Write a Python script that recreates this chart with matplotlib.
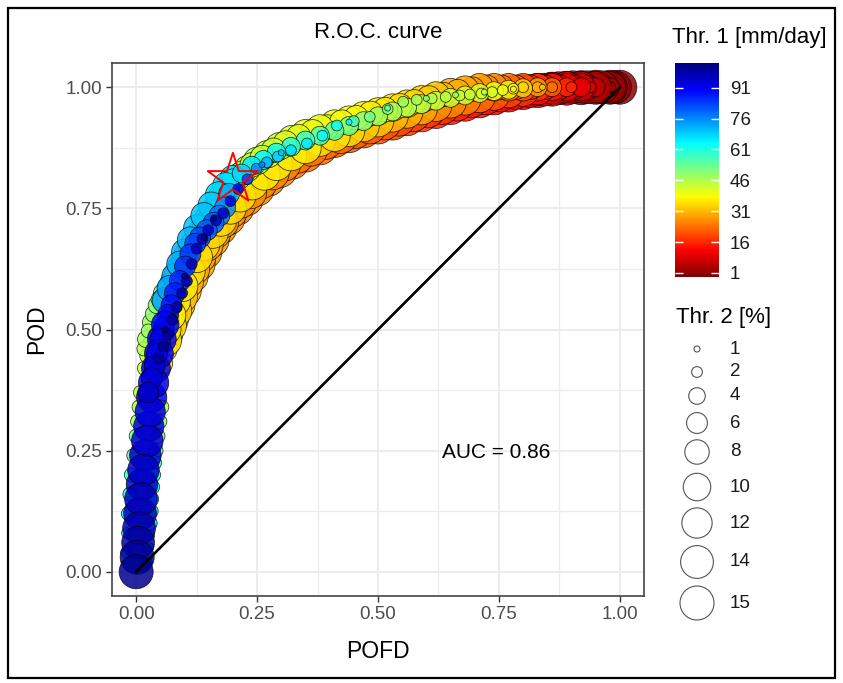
import numpy as np
import matplotlib
matplotlib.use("Agg")
import matplotlib.pyplot as plt
from matplotlib.colors import Normalize, LinearSegmentedColormap
from matplotlib.patches import Rectangle
import matplotlib.cm as cm

plt.rcParams['font.family'] = ['Liberation Sans', 'DejaVu Sans']

# ---- data: (POFD, POD, Thr.1, Thr.2) ----
# big dark blue circles stacked up the left column
col_pofd = [0.000, 0.002, 0.004, 0.006, 0.008, 0.010, 0.012, 0.015, 0.019, 0.023,
            0.026, 0.029, 0.032, 0.036, 0.041, 0.047, 0.053, 0.060]
col_pod = [0.000, 0.030, 0.060, 0.090, 0.120, 0.150, 0.180, 0.210, 0.240, 0.270,
           0.300, 0.330, 0.360, 0.390, 0.420, 0.450, 0.480, 0.510]
col_thr1 = [101, 100, 99, 98, 97, 97, 96, 96, 95, 95, 94, 94, 93, 93, 92, 92, 91, 91]
col_thr2 = [15, 15, 14, 14, 14, 14, 13, 13, 13, 13, 12, 12, 12, 12, 11, 11, 11, 10]

# small points peeking out on both sides of the column
fz_pofd = [-0.021, -0.019, -0.016, -0.013, -0.010, -0.005, 0.000, 0.003, 0.006, 0.009,
           0.017, 0.022, 0.027,
           0.022, 0.025, 0.027, 0.029, 0.031, 0.032, 0.034, 0.036, 0.038, 0.041, 0.045,
           0.049, 0.053]
fz_pod = [0.04, 0.08, 0.12, 0.16, 0.20, 0.24, 0.28, 0.31, 0.34, 0.37, 0.42, 0.445, 0.47,
          0.02, 0.05, 0.075, 0.10, 0.125, 0.15, 0.175, 0.20, 0.225, 0.25, 0.28, 0.31, 0.34]
fz_thr1 = [68, 66, 64, 62, 58, 55, 52, 48, 46, 45, 44, 44, 45,
           70, 68, 68, 66, 66, 64, 62, 60, 58, 55, 52, 50, 46]
fz_thr2 = [2, 2, 3, 3, 3, 3, 3, 3, 3, 3, 3, 3, 3,
           2, 2, 2, 3, 3, 3, 3, 3, 3, 3, 3, 3, 3]

# lower-right edge of the cloud (large Thr.2)
lo_pofd = [0.050, 0.058, 0.068, 0.078, 0.090, 0.102, 0.115, 0.128, 0.142, 0.157,
           0.173, 0.190, 0.208, 0.228, 0.250, 0.273, 0.297, 0.322, 0.350, 0.380,
           0.410, 0.440, 0.470, 0.500, 0.530, 0.560, 0.590, 0.620, 0.650, 0.680,
           0.710, 0.740, 0.770, 0.800, 0.830, 0.860, 0.890, 0.920, 0.950, 0.980, 1.000]
lo_pod = [0.430, 0.460, 0.490, 0.520, 0.550, 0.580, 0.610, 0.635, 0.660, 0.685,
          0.710, 0.730, 0.750, 0.770, 0.790, 0.810, 0.828, 0.845, 0.860, 0.875,
          0.890, 0.900, 0.910, 0.918, 0.926, 0.935, 0.943, 0.950, 0.958, 0.965,
          0.972, 0.978, 0.984, 0.989, 0.993, 0.996, 0.998, 0.999, 1.000, 1.000, 1.000]
lo_thr1 = [36, 35, 34, 33, 32, 31, 30, 29, 28, 28, 27, 27, 26, 26, 26, 25, 25, 24, 23, 23,
           22, 21, 21, 20, 19, 18, 17, 16, 15, 14, 13, 12, 11, 10, 9, 8, 6, 4, 3, 2, 1]
lo_thr2 = [8, 9, 10, 11, 12, 13, 14, 15, 15, 15, 15, 15, 15, 15, 15, 15, 15, 15, 15, 15,
           15, 15, 15, 15, 15, 15, 15, 15, 15, 15, 15, 15, 15, 15, 15, 15, 15, 15, 15, 15, 15]

# second row of big circles just inside the lower edge (Thr.2 = 14)
lo2_pofd = [0.060, 0.070, 0.081, 0.093, 0.105, 0.118, 0.131, 0.146, 0.162, 0.178,
            0.196, 0.215, 0.236, 0.258, 0.282, 0.306, 0.333, 0.362, 0.392, 0.423,
            0.453, 0.483, 0.513, 0.543, 0.573, 0.603, 0.633, 0.663, 0.693, 0.723,
            0.753, 0.783, 0.813, 0.843, 0.873, 0.903, 0.933, 0.963, 0.990]
lo2_pod = [0.478, 0.508, 0.538, 0.568, 0.598, 0.625, 0.650, 0.675, 0.700, 0.722,
           0.743, 0.763, 0.783, 0.803, 0.822, 0.840, 0.856, 0.871, 0.885, 0.897,
           0.907, 0.917, 0.925, 0.933, 0.942, 0.950, 0.957, 0.964, 0.971, 0.977,
           0.983, 0.988, 0.992, 0.995, 0.998, 1.000, 1.000, 1.000, 1.000]
lo2_thr1 = [35, 34, 33, 32, 31, 30, 29, 29, 28, 28, 27, 27, 27, 26, 26, 25, 24, 24, 23, 23,
            22, 22, 21, 20, 19, 18, 17, 16, 15, 14, 13, 12, 10, 9, 7, 5, 4, 3, 1]
lo2_thr2 = 14

# upper-left edge of the cloud
up_pofd = [0.020, 0.030, 0.042, 0.055, 0.070, 0.085, 0.100, 0.115,
           0.130, 0.145, 0.160, 0.175, 0.190, 0.210, 0.230, 0.250, 0.272, 0.296,
           0.322, 0.350, 0.380, 0.410, 0.440, 0.470, 0.500, 0.530, 0.560, 0.590,
           0.620, 0.650, 0.680, 0.710, 0.740, 0.770, 0.800, 0.830, 0.860, 0.890,
           0.920, 0.950, 0.980]
up_pod = [0.480, 0.515, 0.550, 0.575, 0.600, 0.630, 0.655, 0.680,
          0.705, 0.730, 0.750, 0.775, 0.795, 0.815, 0.832, 0.848, 0.862, 0.878,
          0.893, 0.905, 0.915, 0.925, 0.933, 0.942, 0.950, 0.958, 0.966, 0.975,
          0.983, 0.990, 0.995, 1.000, 1.000, 1.000, 1.000, 1.000, 1.000, 1.000,
          1.000, 1.000, 1.000]
up_thr1 = [47, 48, 50, 51, 52, 53, 53, 52, 51, 50, 48, 46, 45, 44, 44, 44, 43, 42,
           41, 40, 40, 39, 38, 37, 36, 35, 34, 33, 32, 30, 29, 28, 26, 23, 20, 17, 14, 10,
           7, 4, 2]
up_thr2 = [4, 4, 4, 5, 5, 5, 6, 6, 6, 7, 7, 8, 8, 9, 9, 10, 10, 10,
           10, 10, 10, 10, 10, 10, 10, 10, 10, 10, 10, 10, 10, 10, 10, 10, 10, 10, 10, 10,
           10, 10, 10]

# second row just inside the upper edge
up2_pofd = [0.016, 0.025, 0.036, 0.048, 0.062, 0.078, 0.093, 0.108, 0.123, 0.138,
            0.153, 0.168, 0.183, 0.200, 0.220, 0.240, 0.261, 0.284, 0.309, 0.336,
            0.365, 0.395, 0.425, 0.455, 0.485, 0.515, 0.545, 0.575, 0.605, 0.635,
            0.665, 0.695, 0.725, 0.755, 0.785, 0.815, 0.845, 0.875, 0.905, 0.935, 0.965]
up2_pod = [0.460, 0.497, 0.532, 0.562, 0.588, 0.615, 0.643, 0.668, 0.693, 0.717,
           0.740, 0.762, 0.785, 0.803, 0.823, 0.840, 0.855, 0.870, 0.885, 0.898,
           0.908, 0.918, 0.928, 0.937, 0.946, 0.954, 0.962, 0.970, 0.978, 0.985,
           0.991, 0.996, 1.000, 1.000, 1.000, 1.000, 1.000, 1.000, 1.000, 1.000, 1.000]
up2_thr1 = [46, 48, 49, 51, 52, 54, 55, 55, 54, 52, 50, 48, 46, 45, 44, 44, 44, 43, 42, 41,
            40, 39, 39, 38, 37, 36, 35, 34, 33, 31, 30, 28, 27, 25, 22, 18, 15, 12, 9, 6, 3]
up2_thr2 = [3, 3, 4, 4, 4, 5, 5, 5, 6, 6, 6, 7, 7, 8, 8, 8, 8, 8, 8, 8,
            8, 8, 8, 8, 8, 8, 8, 8, 8, 8, 8, 8, 8, 8, 8, 8, 8, 8, 8, 8, 8]

# cyan circles just inside the upper edge (Thr.2 = 9)
cy_pofd = [0.060, 0.070, 0.080, 0.090, 0.100, 0.112, 0.125, 0.140, 0.155, 0.170,
           0.185, 0.200]
cy_pod = [0.560, 0.585, 0.610, 0.635, 0.660, 0.685, 0.710, 0.735, 0.757, 0.778,
          0.797, 0.812]
cy_thr1 = [73, 73, 72, 72, 71, 71, 70, 70, 69, 68, 67, 66]
cy_thr2 = 9

# middle of the cloud (Thr.2 = 13)
md_pofd = [0.060, 0.070, 0.080, 0.095, 0.110, 0.125, 0.140, 0.158, 0.175, 0.195,
           0.215, 0.240, 0.265, 0.290, 0.320, 0.350, 0.380, 0.410, 0.440, 0.470,
           0.500, 0.530, 0.560, 0.590, 0.620, 0.650, 0.680, 0.710, 0.740, 0.770,
           0.800, 0.830, 0.860, 0.890, 0.920, 0.950, 0.980]
md_pod = [0.500, 0.530, 0.560, 0.590, 0.620, 0.650, 0.675, 0.700, 0.725, 0.750,
          0.775, 0.800, 0.820, 0.840, 0.860, 0.875, 0.890, 0.900, 0.910, 0.920,
          0.930, 0.940, 0.948, 0.955, 0.962, 0.969, 0.975, 0.980, 0.985, 0.990,
          0.993, 0.996, 0.998, 1.000, 1.000, 1.000, 1.000]
md_thr1 = [37, 37, 36, 36, 35, 35, 34, 34, 34, 34, 35, 35, 36, 36, 36, 36, 35, 35, 34, 33,
           32, 31, 30, 29, 27, 26, 25, 23, 21, 19, 17, 14, 11, 8, 6, 4, 2]
md_thr2 = 13

# medium blue / cyan circles running through the middle
mb_pofd = [0.025, 0.032, 0.038, 0.043, 0.050, 0.058, 0.066, 0.073, 0.080, 0.090,
           0.101, 0.112, 0.122, 0.132, 0.146, 0.160, 0.172, 0.184, 0.192, 0.200,
           0.218, 0.239, 0.263, 0.290, 0.320, 0.350, 0.380, 0.410, 0.440, 0.470,
           0.500, 0.530, 0.560, 0.590, 0.620, 0.650, 0.680, 0.710, 0.740, 0.770,
           0.800, 0.830, 0.860, 0.890, 0.920, 0.950, 0.980]
mb_pod = [0.370, 0.400, 0.425, 0.450, 0.480, 0.505, 0.530, 0.550, 0.575, 0.600,
          0.630, 0.655, 0.677, 0.690, 0.705, 0.720, 0.735, 0.752, 0.780, 0.810,
          0.822, 0.838, 0.850, 0.865, 0.877, 0.890, 0.900, 0.910, 0.920, 0.930,
          0.940, 0.950, 0.958, 0.965, 0.972, 0.978, 0.983, 0.988, 0.992, 0.995,
          0.998, 1.000, 1.000, 1.000, 1.000, 1.000, 1.000]
mb_thr1 = [95, 94, 93, 92, 91, 90, 89, 88, 87, 86, 85, 84, 83, 82, 81, 80, 78, 75, 72, 66,
           68, 66, 64, 62, 60, 58, 56, 54, 52, 50, 48, 47, 46, 45, 44, 43, 42, 41, 40, 37,
           33, 28, 22, 16, 10, 6, 3]
mb_thr2 = [6, 6, 6, 6, 6, 6, 6, 6, 6, 6, 6, 6, 6, 6, 6, 6, 6, 6, 6, 6,
           5, 5, 5, 5, 5, 5, 5, 5, 5, 5, 5, 5, 5, 5, 5, 5, 5, 5, 5, 5,
           5, 5, 5, 5, 5, 5, 5]

# small points on top (Thr.2 = 2)
sm_pofd = [0.046, 0.056, 0.066, 0.075, 0.084, 0.095, 0.105, 0.115, 0.125, 0.137,
           0.149, 0.165, 0.180, 0.195, 0.211, 0.230, 0.249, 0.270, 0.293, 0.320,
           0.353, 0.385, 0.415, 0.450, 0.483, 0.520, 0.552, 0.580, 0.611, 0.640,
           0.669, 0.690, 0.714, 0.736, 0.758, 0.780, 0.800, 0.830, 0.860, 0.900,
           0.940, 0.980]
sm_pod = [0.440, 0.465, 0.490, 0.520, 0.546, 0.575, 0.600, 0.635, 0.667, 0.687,
          0.705, 0.725, 0.740, 0.765, 0.790, 0.810, 0.832, 0.845, 0.857, 0.870,
          0.884, 0.900, 0.921, 0.930, 0.939, 0.955, 0.970, 0.974, 0.977, 0.980,
          0.983, 0.985, 0.987, 0.990, 0.994, 0.997, 1.000, 1.000, 1.000, 1.000,
          1.000, 1.000]
sm_thr1 = [101, 101, 100, 100, 99, 99, 98, 98, 97, 97, 96, 96, 95, 94, 93, 84, 76, 72, 69, 67,
           66, 64, 62, 57, 52, 50, 48, 47, 46, 45, 44, 44, 43, 42, 40, 37, 34, 30, 24, 16,
           9, 3]
sm_thr2 = 2

# tiniest points (Thr.2 = 1)
ti_pofd = [0.060, 0.100, 0.140, 0.160, 0.260, 0.300, 0.440, 0.520, 0.600, 0.660, 0.720, 0.780, 0.840]
ti_pod = [0.500, 0.610, 0.690, 0.730, 0.840, 0.865, 0.928, 0.957, 0.977, 0.984, 0.990, 0.996, 1.000]
ti_thr1 = [103, 102, 101, 100, 76, 70, 64, 55, 50, 47, 44, 40, 33]
ti_thr2 = 1

best_pofd, best_pod = 0.20, 0.81
auc = 0.86
cb_ticks = [1, 16, 31, 46, 61, 76, 91]
size_breaks = [1, 2, 4, 6, 8, 10, 12, 14, 15]

# ---- assemble ----
groups = [
    (col_pofd, col_pod, col_thr1, col_thr2),
    (fz_pofd, fz_pod, fz_thr1, fz_thr2),
    (lo_pofd, lo_pod, lo_thr1, lo_thr2),
    (lo2_pofd, lo2_pod, lo2_thr1, lo2_thr2),
    (up_pofd, up_pod, up_thr1, up_thr2),
    (up2_pofd, up2_pod, up2_thr1, up2_thr2),
    (cy_pofd, cy_pod, cy_thr1, cy_thr2),
    (md_pofd, md_pod, md_thr1, md_thr2),
    (mb_pofd, mb_pod, mb_thr1, mb_thr2),
    (sm_pofd, sm_pod, sm_thr1, sm_thr2),
    (ti_pofd, ti_pod, ti_thr1, ti_thr2),
]
pofd, pod, thr1, thr2 = [], [], [], []
for gx, gy, g1, g2 in groups:
    pofd += gx
    pod += gy
    thr1 += g1
    thr2 += g2 if isinstance(g2, list) else [g2] * len(gx)
pofd, pod, thr1, thr2 = map(np.array, (pofd, pod, thr1, thr2))

W, H = 843, 683
fig = plt.figure(figsize=(W / 100, H / 100), dpi=100)


def fx(px):
    return px / W


def fy(py):
    return 1 - py / H


def size(v):
    # circle diameter in px like ggplot's scale_size, converted to pt^2
    d = np.sqrt(36 + 80 * (np.asarray(v, float) - 1)) * 0.72
    return d ** 2


# R style jet.colors, reversed (high threshold = dark blue)
jet = ["#00007F", "blue", "#007FFF", "cyan", "#7FFF7F", "yellow", "#FF7F00", "red", "#7F0000"]
cmap = LinearSegmentedColormap.from_list('jet_rev', jet[::-1])
norm = Normalize(vmin=-1, vmax=103)

ax = fig.add_axes([fx(112), fy(596), (644 - 112) / W, (596 - 63) / H])
order = np.argsort(thr1, kind='stable')
face = cmap(norm(thr1[order]))
face[:, 3] = 0.85
ax.scatter(pofd[order], pod[order], s=size(thr2[order]), c=face,
           edgecolors=(0, 0, 0, 0.8), linewidths=0.55, zorder=3)
ax.plot([0, 1], [0, 1], color='black', lw=1.9, zorder=4)
ax.scatter([best_pofd], [best_pod], marker='*', s=1450, facecolors='none',
           edgecolors='red', linewidths=1.4, zorder=5)
ax.text(0.745, 0.246, 'AUC = %.2f' % auc, fontsize=15, ha='center', va='center', zorder=6)

ax.set_xlim(-0.05, 1.05)
ax.set_ylim(-0.05, 1.05)
ticks = [0, 0.25, 0.5, 0.75, 1.0]
ax.set_xticks(ticks)
ax.set_yticks(ticks)
ax.set_xticklabels(['%.2f' % t for t in ticks])
ax.set_yticklabels(['%.2f' % t for t in ticks])
ax.set_xticks([0.125, 0.375, 0.625, 0.875], minor=True)
ax.set_yticks([0.125, 0.375, 0.625, 0.875], minor=True)
ax.grid(which='major', color='#ebebeb', lw=1.3, zorder=0)
ax.grid(which='minor', color='#ebebeb', lw=0.9, zorder=0)
ax.set_axisbelow(True)
ax.tick_params(which='major', length=4, width=1, color='#333333',
               labelsize=13.5, labelcolor='#4d4d4d', pad=3)
ax.tick_params(which='minor', length=0)
for sp in ax.spines.values():
    sp.set_color('#444444')
    sp.set_linewidth(1.2)

fig.text(fx(378), fy(33), 'R.O.C. curve', fontsize=16, ha='center', va='center')
fig.text(fx(378), fy(652), 'POFD', fontsize=16.5, ha='center', va='center')
fig.text(fx(37), fy(329), 'POD', fontsize=16.5, ha='center', va='center', rotation=90)

# colour bar
cax = fig.add_axes([fx(675), fy(277), 44 / W, 214 / H])
sm = cm.ScalarMappable(norm=norm, cmap=cmap)
cb = fig.colorbar(sm, cax=cax, ticks=cb_ticks)
cb.outline.set_visible(False)
cax.tick_params(direction='in', length=6, width=1, color='white', left=True, right=True,
                labelsize=13.5, labelcolor='#1a1a1a', pad=8)
fig.text(fx(672), fy(38), 'Thr. 1 [mm/day]', fontsize=16, ha='left', va='center')

# size legend
ov = fig.add_axes([0, 0, 1, 1])
ov.set_xlim(0, W)
ov.set_ylim(H, 0)
ov.axis('off')
row_y = [349, 372, 396, 423, 452, 487, 523, 562, 603]
ov.text(676, 317, 'Thr. 2 [%]', fontsize=16, ha='left', va='center')
ov.scatter([697] * len(size_breaks), row_y, s=size(size_breaks), facecolors='white',
           edgecolors='#555555', linewidths=0.8)
for yy, b in zip(row_y, size_breaks):
    ov.text(730, yy, str(b), fontsize=13.5, ha='left', va='center', color='#1a1a1a')

# outer frame
ov.add_patch(Rectangle((8, 8), 827, 670, fill=False, lw=1.6, edgecolor='black'))

fig.savefig('out.png', dpi=100)
